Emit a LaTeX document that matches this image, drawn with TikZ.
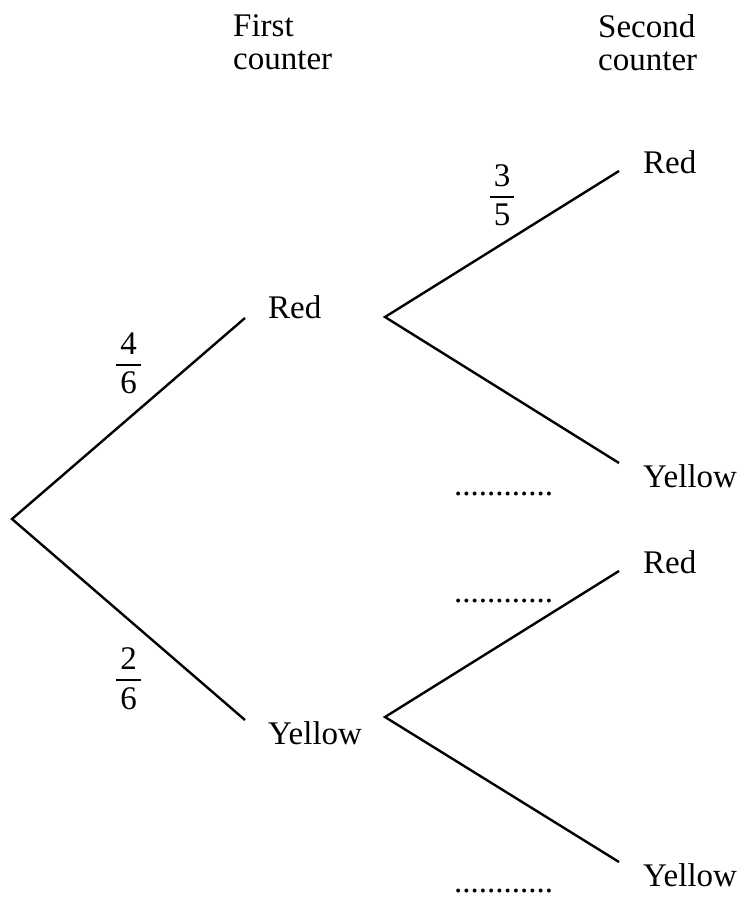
\documentclass[tikz,border=0pt]{standalone}
\usepackage{fontspec}
\setmainfont{Liberation Serif}
\usepackage{amsmath}
\usetikzlibrary{positioning}
\newcommand{\pfrac}[2]{$\genfrac{}{}{2pt}{0}{\,\textrm{#1}\,}{\,\textrm{#2}\,}$}
\tikzset{
	tree/.style={x=1pt,y=-1pt,line width=2.4pt,line join=miter,
		every node/.style={font=\fontsize{33}{33}\selectfont,inner sep=0pt}},
	red label/.style={anchor=base west},
	yellow label/.style={anchor=north west},
	heading/.style={anchor=north west,align=left},
	blank/.style={anchor=base west}
}

\begin{document}
\begin{tikzpicture}[tree]
		\useasboundingbox (0,0) rectangle (739,897);
		
		\node[heading] (first) at (232,13) {First\\counter};
		\node[heading] (second) at (597,13) {Second\\counter};
		
		\coordinate (o) at (12,519);
		\coordinate (r) at (245,318);
		\coordinate (y) at (245,720);
		\coordinate (rs) at (385,317);
		\coordinate (ys) at (385,717);
		\coordinate (rr) at (619,171);
		\coordinate (ry) at (619,463);
		\coordinate (yr) at (619,571);
		\coordinate (yy) at (619,862);
		
		\node (red) [right=22pt of r, red label] {Red};
		\node (yellow) [right=22pt of y, yellow label] {Yellow};
		\node (red red) [right=23pt of rr, red label, yshift=-2pt] {Red};
		\node (red yellow) [right=23pt of ry, yellow label] {Yellow};
		\node (yellow red) [right=23pt of yr, red label, yshift=-2pt] {Red};
		\node (yellow yellow) [right=23pt of yy, yellow label] {Yellow};
		
		\draw (r) -- node[above=23pt] (p r) {\pfrac46} (o)
			-- node[below=27pt] (p y) {\pfrac26} (y);
		\draw (rr) -- node[above=17pt] (p rr) {\pfrac35} (rs) -- (ry);
		\draw (yr) -- (ys) -- (yy);
		
		\node[blank] (b ry) at (453,495) {............};
		\node[blank] (b yr) at (453,602) {............};
		\node[blank] (b yy) at (453,892) {............};
\end{tikzpicture}
\end{document}
